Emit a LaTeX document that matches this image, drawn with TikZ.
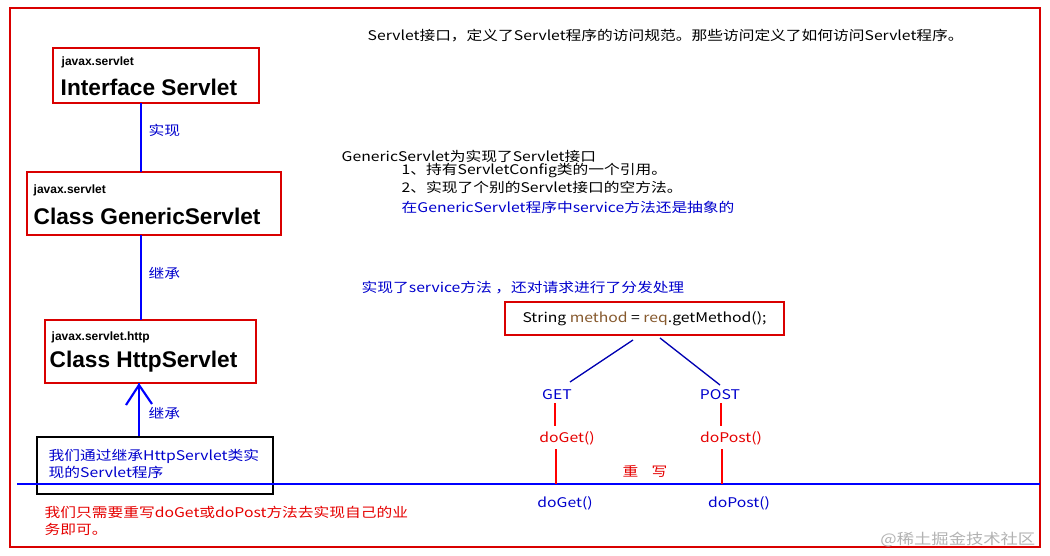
\documentclass[tikz,border=0pt]{standalone}
\usepackage{fontspec}
\setmainfont{Liberation Sans}
\newfontfamily\cjk[FakeStretch=1.18]{Noto Sans CJK SC}
\begin{document}
\begin{tikzpicture}[x=0.75pt,y=-0.75pt,
  blu/.style={text=blue!80!black,font=\cjk\fontsize{10}{13}\selectfont},
  rd/.style={text=red!90!black,font=\cjk\fontsize{10}{13}\selectfont},
  blk/.style={text=black,font=\cjk\fontsize{10}{13}\selectfont},
  bline/.style={draw=blue,line width=1.6pt},
  rline/.style={draw=red,line width=2.2pt}]
\useasboundingbox (0,0) rectangle (1050,556);
\draw[red!85!black,line width=0.8pt] (10,8) rectangle (1040,547);
% class boxes
\draw[red!85!black,fill=white,line width=0.8pt] (53,48) rectangle (259,103);
\node[anchor=west,font=\bfseries\fontsize{9}{10}\selectfont] (p1) at (57,62) {javax.servlet};
\node[anchor=west,font=\bfseries\fontsize{17}{19}\selectfont] (c1) at (56,87) {Interface Servlet};
\coordinate (b1) at (141,103);
\draw[red!85!black,fill=white,line width=0.8pt] (27,172) rectangle (281,235);
\node[anchor=west,font=\bfseries\fontsize{9}{10}\selectfont] (p2) at (29,190) {javax.servlet};
\node[anchor=west,font=\bfseries\fontsize{17}{19}\selectfont] (c2) at (29,216) {Class GenericServlet};
\coordinate (t2) at (141,172); \coordinate (b2) at (141,235);
\draw[red!85!black,fill=white,line width=0.8pt] (45,320) rectangle (256,383);
\node[anchor=west,font=\bfseries\fontsize{9}{10}\selectfont] (p3) at (47,337) {javax.servlet.http};
\node[anchor=west,font=\bfseries\fontsize{17}{19}\selectfont] (c3) at (45,362) {Class HttpServlet};
\coordinate (t3) at (141,320); \coordinate (b3) at (139,383);
\draw[bline] (t2) -- (b1);
\draw[bline] (t3) -- (b2);
\coordinate (t4) at (139,437);
\draw[bline] (t4) -- (b3);
\draw[bline] (126,405) -- (139,385) -- (152,404);
\node[blu,anchor=west] (l1) at (144,130) {实现};
\node[blu,anchor=west] (l2) at (144,273) {继承};
\node[blu,anchor=west] (l3) at (144,413) {继承};
% black box
\draw[black,line width=1.5pt] (37,437) rectangle (273,494);
\node[blu,anchor=north west,align=left] (me) at (44,444) {我们通过继承HttpServlet类实\\现的Servlet程序};
\draw[bline] (17,484) -- (1040,484);
\node[rd,anchor=north west,align=left] (note) at (40,501) {我们只需要重写doGet或doPost方法去实现自己的业\\务即可。};
% texts
\node[blk,anchor=west] (top) at (363,36) {Servlet接口，定义了Servlet程序的访问规范。那些访问定义了如何访问Servlet程序。};
\node[blk,anchor=west] (gs1) at (337,156) {GenericServlet为实现了Servlet接口};
\node[blk,anchor=west] (gs2) at (397,171) {1、持有ServletConfig类的一个引用。};
\node[blk,anchor=west] (gs3) at (397,187) {2、实现了个别的Servlet接口的空方法。};
\node[blu,anchor=west] (abs) at (397,207) {在GenericServlet程序中service方法还是抽象的};
\node[blu,anchor=west] (svc) at (357,288) {实现了service方法 ，还对请求进行了分发处理};
\node[draw=red!85!black,line width=0.8pt,fill=white,minimum width=279*0.75pt,minimum height=33*0.75pt,font=\cjk\fontsize{10}{13}\selectfont] (str) at (644.5,318.5) {String \textcolor{brown!70!black}{method} = \textcolor{brown!70!black}{req}.getMethod();};
\node[blu] (get) at (557,395) {GET};
\node[blu] (post) at (720,395) {POST};
\draw[blue!70!black,line width=1pt] (633,340) -- (570,382);
\draw[blue!70!black,line width=1pt] (660,338) -- (720,385);
\node[rd] (dg) at (567,438) {doGet()};
\node[rd] (dp) at (731,438) {doPost()};
\draw[rline] (555,403) -- (555,426);
\draw[rline] (721,403) -- (721,426);
\draw[rline] (556,449) -- (556,484);
\draw[rline] (722,449) -- (722,484);
\node[rd] (cw) at (645,471) {重\quad 写};
\node[blu] (dg2) at (565,503) {doGet()};
\node[blu] (dp2) at (739,503) {doPost()};
\node[text=gray!60,font=\cjk\fontsize{11}{13}\selectfont,anchor=east] (wm) at (1040,540) {@稀土掘金技术社区};
\end{tikzpicture}
\end{document}
